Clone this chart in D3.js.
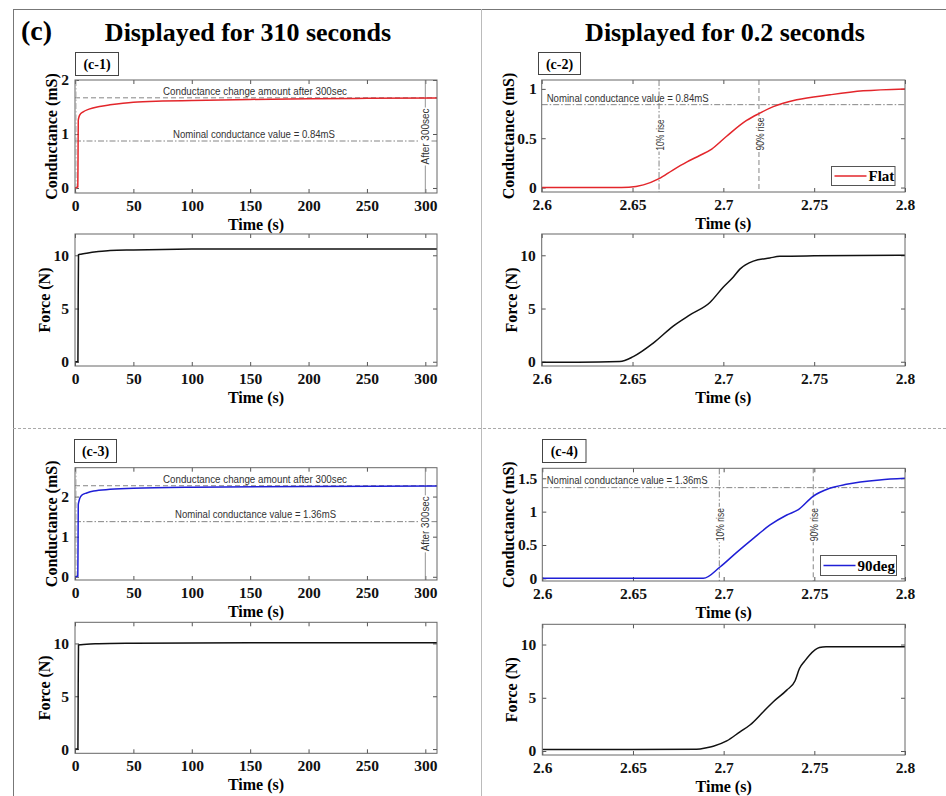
<!DOCTYPE html>
<html><head><meta charset="utf-8">
<script src="https://cdn.jsdelivr.net/npm/d3@7/dist/d3.min.js"></script>
<style>body{margin:0;background:#fff;} svg{display:block;}</style>
</head><body>
<svg id="fig" width="946" height="796"></svg>
<script>
// ---------------- DATA ----------------
const LONG_T_TICKS = [0, 50, 100, 150, 200, 250, 300];
const SHORT_T_TICKS = [2.6, 2.65, 2.7, 2.75, 2.8];
const COND_TICKS_C1 = [0, 1, 2];
const COND_TICKS_C2 = [0, 0.5, 1];
const COND_TICKS_C3 = [0, 1, 2];
const COND_TICKS_C4 = [0, 0.5, 1, 1.5];
const FORCE_TICKS = [0, 5, 10];

// (c-1) Flat, 310 s
const c1Time = [0, 2.4, 2.6, 2.8, 3.2, 4, 7, 12, 21, 30, 50, 75, 100, 150, 200, 250, 310];
const c1Cond = [0, 0.02, 0.6, 1.25, 1.3, 1.35, 1.41, 1.46, 1.51, 1.54, 1.59, 1.61, 1.62, 1.64, 1.655, 1.66, 1.667];
const c1ForceTime = [0, 2.5, 2.7, 3, 5, 10, 20, 30, 50, 100, 150, 200, 250, 310];
const c1Force = [0, 0, 5, 10.05, 10.1, 10.2, 10.35, 10.45, 10.5, 10.58, 10.6, 10.6, 10.6, 10.6];
const c1ChangeLevel = 1.67;
const c1NominalLevel = 0.87;

// (c-2) Flat, 0.2 s
const c2Time = [2.6, 2.62, 2.64, 2.648, 2.656, 2.6646, 2.672, 2.68, 2.687, 2.6936, 2.7018, 2.7128, 2.7196, 2.7275, 2.7404, 2.7587, 2.777, 2.8];
const c2Cond = [0, 0, 0, 0.003, 0.027, 0.09, 0.175, 0.26, 0.325, 0.39, 0.52, 0.68, 0.75, 0.82, 0.89, 0.94, 0.98, 1.0];
const c2ForceTime = [2.6, 2.62, 2.643, 2.6504, 2.6614, 2.6724, 2.6816, 2.6926, 2.6999, 2.7055, 2.7091, 2.7165, 2.7256, 2.7311, 2.75, 2.8];
const c2Force = [-0.05, -0.05, 0.02, 0.48, 1.75, 3.35, 4.4, 5.57, 7.0, 7.96, 8.7, 9.45, 9.75, 9.9, 9.95, 10.0];
const c2NominalLevel = 0.84;
const c2Rise10 = 2.6646;
const c2Rise90 = 2.7196;

// (c-3) 90deg, 310 s
const c3Time = [0, 2.4, 2.6, 2.8, 3.2, 4, 6, 10, 16, 30, 50, 100, 200, 310];
const c3Cond = [0, 0.02, 0.8, 1.8, 1.86, 1.95, 2.04, 2.09, 2.14, 2.18, 2.21, 2.235, 2.25, 2.265];
const c3ForceTime = [0, 2.5, 2.7, 3, 5, 10, 20, 50, 100, 150, 200, 310];
const c3Force = [0, 0, 5, 9.85, 9.88, 9.93, 9.97, 10.02, 10.05, 10.06, 10.06, 10.06];
const c3ChangeLevel = 2.27;
const c3NominalLevel = 1.375;

// (c-4) 90deg, 0.2 s
const c4Time = [2.6, 2.65, 2.6888, 2.698, 2.7072, 2.7164, 2.7256, 2.7348, 2.7412, 2.7493, 2.7585, 2.7677, 2.786, 2.8];
const c4Cond = [0, 0, 0, 0.17, 0.39, 0.6, 0.8, 0.95, 1.03, 1.23, 1.35, 1.41, 1.475, 1.5];
const c4ForceTime = [2.6, 2.65, 2.685, 2.6906, 2.6943, 2.7017, 2.709, 2.7145, 2.7219, 2.7274, 2.7348, 2.7394, 2.7418, 2.7445, 2.7473, 2.7528, 2.7565, 2.8];
const c4Force = [0.15, 0.15, 0.16, 0.3, 0.45, 0.95, 1.8, 2.44, 3.69, 4.63, 5.72, 6.6, 7.75, 8.4, 9.0, 9.72, 9.8, 9.8];
const c4NominalLevel = 1.36;
const c4Rise10 = 2.6976;
const c4Rise90 = 2.7494;

const RED = "#e3262b", BLUE = "#1f1fd6", BLACK = "#111";
const SERIF = "'Liberation Serif','Times New Roman',serif";
const SANS = "'Liberation Sans','DejaVu Sans',Arial,sans-serif";

const svg = d3.select("#fig");

// ---------------- FRAME ----------------
svg.append("line").attr("x1", 13).attr("x2", 946).attr("y1", 9.5).attr("y2", 9.5).attr("stroke", "#777");
svg.append("line").attr("x1", 13.5).attr("x2", 13.5).attr("y1", 9).attr("y2", 796).attr("stroke", "#777");
svg.append("line").attr("x1", 481.5).attr("x2", 481.5).attr("y1", 9).attr("y2", 796).attr("stroke", "#bbb");
svg.append("line").attr("x1", 13).attr("x2", 946).attr("y1", 428.5).attr("y2", 428.5).attr("stroke", "#aaa").attr("stroke-dasharray", "3,2");

svg.append("text").attr("x", 21).attr("y", 40).attr("font-family", SERIF).attr("font-weight", "bold").attr("font-size", 28).text("(c)");
svg.append("text").attr("x", 248).attr("y", 41).attr("text-anchor", "middle").attr("font-family", SERIF).attr("font-weight", "bold").attr("font-size", 26).text("Displayed for 310 seconds");
svg.append("text").attr("x", 725).attr("y", 41).attr("text-anchor", "middle").attr("font-family", SERIF).attr("font-weight", "bold").attr("font-size", 26).text("Displayed for 0.2 seconds");

// ---------------- PANEL DRAWER ----------------
function drawPanel(p) {
  const x = d3.scaleLinear().domain(p.xDomain).range([p.x0, p.x1]);
  const y = d3.scaleLinear().domain(p.yDomain).range([p.y1, p.y0]);
  const g = svg.append("g");
  const clipId = "clip" + Math.round(p.x0) + "_" + Math.round(p.y0);
  g.append("clipPath").attr("id", clipId).append("rect")
    .attr("x", p.x0).attr("y", p.y0).attr("width", p.x1 - p.x0).attr("height", p.y1 - p.y0);

  const styleAxis = sel => {
    sel.select(".domain").remove();
    sel.selectAll(".tick line").attr("stroke", "#555");
    sel.selectAll(".tick text").attr("font-family", SERIF).attr("font-weight", "bold").attr("font-size", 15.5).attr("fill", "#111");
  };
  g.append("g").attr("transform", `translate(0,${p.y1})`)
    .call(d3.axisBottom(x).tickValues(p.xTicks).tickSize(-4).tickSizeOuter(0).tickPadding(7).tickFormat(d => String(d))).call(styleAxis);
  g.append("g").attr("transform", `translate(0,${p.y0})`)
    .call(d3.axisTop(x).tickValues(p.xTicks).tickSize(-4).tickSizeOuter(0).tickFormat("")).call(styleAxis);
  g.append("g").attr("transform", `translate(${p.x0},0)`)
    .call(d3.axisLeft(y).tickValues(p.yTicks).tickSize(-4).tickSizeOuter(0).tickPadding(p.yPad || 6).tickFormat(d => String(d))).call(styleAxis);
  g.append("g").attr("transform", `translate(${p.x1},0)`)
    .call(d3.axisRight(y).tickValues(p.yTicks).tickSize(-4).tickSizeOuter(0).tickFormat("")).call(styleAxis);

  // reference lines
  const refs = g.append("g").attr("clip-path", `url(#${clipId})`);
  (p.hlines || []).forEach(h => {
    refs.append("line").attr("x1", p.x0).attr("x2", p.x1).attr("y1", y(h.v)).attr("y2", y(h.v))
      .attr("stroke", "#777").attr("stroke-width", 0.9).attr("stroke-dasharray", h.dash);
  });
  (p.vlines || []).forEach(v => {
    refs.append("line").attr("x1", x(v.v)).attr("x2", x(v.v)).attr("y1", p.y0).attr("y2", p.y1)
      .attr("stroke", v.color || "#777").attr("stroke-width", 0.9).attr("stroke-dasharray", v.dash || null);
  });
  // horizontal labels
  (p.hlabels || []).forEach(t => {
    g.append("text").attr("x", t.x).attr("y", y(t.v) - t.off).attr("font-family", SANS).attr("font-size", 10)
      .attr("fill", "#333").attr("textLength", t.len).attr("lengthAdjust", "spacingAndGlyphs").text(t.text);
  });
  // rotated labels on vertical lines, white background
  (p.vlabels || []).forEach(t => {
    const cy = (p.y0 + p.y1) / 2 + (t.dy || 0);
    const gg = g.append("g").attr("transform", `translate(${x(t.v) + (t.dx || 0)},${cy}) rotate(-90)`);
    const tx = gg.append("text").attr("x", 0).attr("y", 0).attr("text-anchor", "middle").attr("dominant-baseline", "central")
      .attr("font-family", SANS).attr("font-size", 10).attr("fill", "#333")
      .attr("textLength", t.len).attr("lengthAdjust", "spacingAndGlyphs").text(t.text);
    const bb = tx.node().getBBox();
    gg.insert("rect", "text").attr("x", bb.x - 1).attr("y", bb.y).attr("width", bb.width + 2).attr("height", bb.height).attr("fill", "#fff");
  });

  // data curve
  const line = d3.line().x(d => x(d[0])).y(d => y(d[1])).curve(d3.curveMonotoneX);
  g.append("path").attr("clip-path", `url(#${clipId})`).datum(d3.zip(p.t, p.v))
    .attr("d", line).attr("fill", "none").attr("stroke", p.color).attr("stroke-width", 1.5);

  // box
  g.append("rect").attr("x", p.x0).attr("y", p.y0).attr("width", p.x1 - p.x0).attr("height", p.y1 - p.y0)
    .attr("fill", "none").attr("stroke", "#666").attr("stroke-width", 1);

  // legend
  if (p.legend) {
    const L = p.legend;
    g.append("rect").attr("x", L.x).attr("y", L.y).attr("width", L.w).attr("height", L.h).attr("fill", "#fff").attr("stroke", "#555");
    g.append("line").attr("x1", L.x + 3).attr("x2", L.x + 35).attr("y1", L.y + L.h / 2).attr("y2", L.y + L.h / 2).attr("stroke", p.color).attr("stroke-width", 1.3);
    g.append("text").attr("x", L.x + 37).attr("y", L.y + L.h / 2 + 5).attr("font-family", SERIF).attr("font-weight", "bold").attr("font-size", 15).text(L.text);
  }

  // axis labels
  g.append("text").attr("x", (p.x0 + p.x1) / 2).attr("y", p.y1 + 37).attr("text-anchor", "middle")
    .attr("font-family", SERIF).attr("font-weight", "bold").attr("font-size", 16).text("Time (s)");
  g.append("text").attr("transform", `translate(${p.ylx},${(p.y0 + p.y1) / 2}) rotate(-90)`).attr("text-anchor", "middle")
    .attr("dominant-baseline", "central").attr("font-family", SERIF).attr("font-weight", "bold").attr("font-size", 16).text(p.ylabel);

  // panel tag
  if (p.tag) {
    const T = p.tag;
    g.append("rect").attr("x", T.x).attr("y", T.y).attr("width", T.w).attr("height", T.h).attr("fill", "#fff").attr("stroke", "#444");
    g.append("text").attr("x", T.x + T.w / 2).attr("y", T.y + T.h / 2 + 5).attr("text-anchor", "middle")
      .attr("font-family", SERIF).attr("font-weight", "bold").attr("font-size", 14).text(T.text);
  }
}

const COND = "Conductance (mS)", FORCE = "Force (N)";

drawPanel({
  x0: 75, x1: 437, y0: 80, y1: 193, xDomain: [0, 310], yDomain: [-0.093, 2], xTicks: LONG_T_TICKS, yTicks: COND_TICKS_C1,
  t: c1Time, v: c1Cond, color: RED, ylabel: COND, ylx: 51,
  hlines: [{ v: c1ChangeLevel, dash: "5,3" }, { v: c1NominalLevel, dash: "6,2,1.5,2" }],
  vlines: [{ v: 300, dash: null, color: "#888" }, { v: 1, dash: "6,2,1.5,2", color: "#bbb" }],
  hlabels: [{ x: 163, v: c1ChangeLevel, off: 3, len: 184, text: "Conductance change amount after 300sec" },
            { x: 173, v: c1NominalLevel, off: 3, len: 162, text: "Nominal conductance value = 0.84mS" }],
  vlabels: [{ v: 300, len: 56, text: "After 300sec" }],
  tag: { x: 75.5, y: 52.5, w: 43, h: 23, text: "(c-1)" }
});
drawPanel({
  x0: 75, x1: 437, y0: 234, y1: 366, xDomain: [0, 310], yDomain: [-0.4, 12], xTicks: LONG_T_TICKS, yTicks: FORCE_TICKS,
  t: c1ForceTime, v: c1Force, color: BLACK, ylabel: FORCE, ylx: 44
});
drawPanel({
  x0: 541.7, x1: 905, y0: 80, y1: 192, xDomain: [2.6, 2.8], yDomain: [-0.045, 1.09], xTicks: SHORT_T_TICKS, yTicks: COND_TICKS_C2,
  t: c2Time, v: c2Cond, color: RED, ylabel: COND, ylx: 508.5, yPad: 5,
  hlines: [{ v: c2NominalLevel, dash: "6,2,1.5,2" }],
  vlines: [{ v: c2Rise10, dash: "6,2,1.5,2" }, { v: c2Rise90, dash: "5,3" }],
  hlabels: [{ x: 546.7, v: c2NominalLevel, off: 3, len: 162, text: "Nominal conductance value = 0.84mS" }],
  vlabels: [{ v: c2Rise10, len: 31, dx: 1.5, dy: -1, text: "10% rise" }, { v: c2Rise90, len: 33, dx: 1.5, dy: -2, text: "90% rise" }],
  legend: { x: 831.5, y: 166.5, w: 63.5, h: 19, text: "Flat" },
  tag: { x: 538.5, y: 52.5, w: 42, h: 22, text: "(c-2)" }
});
drawPanel({
  x0: 541.7, x1: 905, y0: 234, y1: 366, xDomain: [2.6, 2.8], yDomain: [-0.4, 12], xTicks: SHORT_T_TICKS, yTicks: FORCE_TICKS,
  t: c2ForceTime, v: c2Force, color: BLACK, ylabel: FORCE, ylx: 511
});
drawPanel({
  x0: 75, x1: 437, y0: 467.7, y1: 580, xDomain: [0, 310], yDomain: [-0.08, 2.72], xTicks: LONG_T_TICKS, yTicks: COND_TICKS_C3,
  t: c3Time, v: c3Cond, color: BLUE, ylabel: COND, ylx: 51,
  hlines: [{ v: c3ChangeLevel, dash: "5,3" }, { v: c3NominalLevel, dash: "6,2,1.5,2" }],
  vlines: [{ v: 300, dash: null, color: "#888" }, { v: 1, dash: "6,2,1.5,2", color: "#bbb" }],
  hlabels: [{ x: 163, v: c3ChangeLevel, off: 3, len: 184, text: "Conductance change amount after 300sec" },
            { x: 175, v: c3NominalLevel, off: 4, len: 161, text: "Nominal conductance value = 1.36mS" }],
  vlabels: [{ v: 300, len: 55, dy: 0, text: "After 300sec" }],
  tag: { x: 74.5, y: 439.5, w: 42, h: 23, text: "(c-3)" }
});
drawPanel({
  x0: 75, x1: 437, y0: 622.3, y1: 753.3, xDomain: [0, 310], yDomain: [-0.4, 12], xTicks: LONG_T_TICKS, yTicks: FORCE_TICKS,
  t: c3ForceTime, v: c3Force, color: BLACK, ylabel: FORCE, ylx: 44
});
drawPanel({
  x0: 542.3, x1: 905, y0: 468.3, y1: 581, xDomain: [2.6, 2.8], yDomain: [-0.04, 1.65], xTicks: SHORT_T_TICKS, yTicks: COND_TICKS_C4,
  t: c4Time, v: c4Cond, color: BLUE, ylabel: COND, ylx: 508.5, yPad: 5,
  hlines: [{ v: c4NominalLevel, dash: "6,2,1.5,2" }],
  vlines: [{ v: c4Rise10, dash: "6,2,1.5,2" }, { v: c4Rise90, dash: "5,3" }],
  hlabels: [{ x: 546.7, v: c4NominalLevel, off: 4, len: 161, text: "Nominal conductance value = 1.36mS" }],
  vlabels: [{ v: c4Rise10, len: 33, dx: 1.5, dy: 0, text: "10% rise" }, { v: c4Rise90, len: 33, dx: 1.5, dy: 0, text: "90% rise" }],
  legend: { x: 820.5, y: 555.5, w: 76, h: 20, text: "90deg" },
  tag: { x: 542.5, y: 439.5, w: 43.5, h: 23, text: "(c-4)" }
});
drawPanel({
  x0: 542.3, x1: 905, y0: 624.3, y1: 755, xDomain: [2.6, 2.8], yDomain: [-0.375, 11.9], xTicks: SHORT_T_TICKS, yTicks: FORCE_TICKS,
  t: c4ForceTime, v: c4Force, color: BLACK, ylabel: FORCE, ylx: 511
});
</script>
</body></html>
